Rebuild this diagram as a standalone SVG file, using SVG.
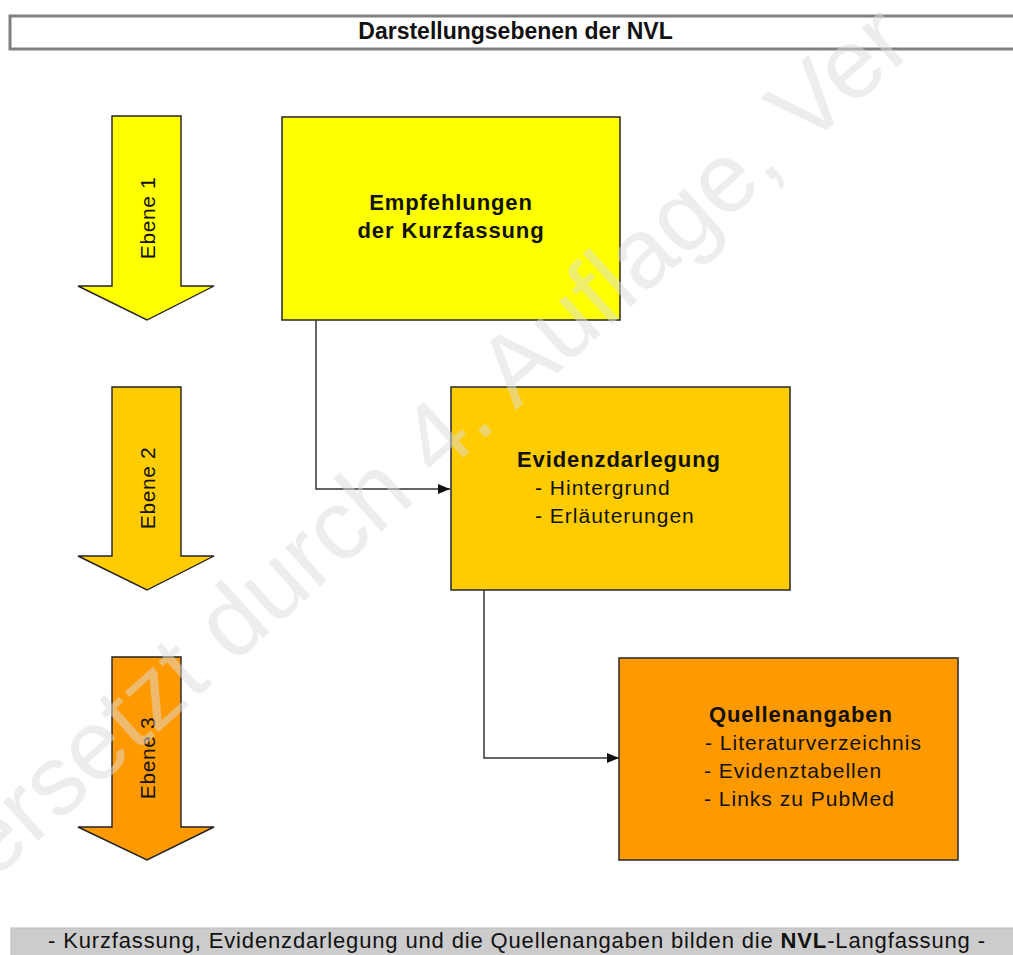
<svg xmlns="http://www.w3.org/2000/svg" width="1013" height="955" viewBox="0 0 1013 955">
<style>
  .t { font-family: "Liberation Sans", Arial, sans-serif; fill: #111; }
  .b { font-weight: bold; }
  .box { stroke: #333; stroke-width: 1.6; }
  .arr { stroke: #222; stroke-width: 1.4; stroke-linejoin: miter; }
  .con { fill: none; stroke: #333; stroke-width: 1.5; }
  .wm { font-family: "Liberation Sans", Arial, sans-serif; font-size: 99px; fill: #dcdcdc; opacity: 0.5; }
</style>
<defs>
  <marker id="ah" viewBox="0 0 12 10" refX="12" refY="5" markerWidth="12" markerHeight="10" markerUnits="userSpaceOnUse" orient="auto">
    <path d="M0,0 L12,5 L0,10 Z" fill="#111"/>
  </marker>
</defs>
<rect width="1013" height="955" fill="#ffffff"/>

<g id="title">
  <rect x="10" y="16" width="1012" height="33" fill="#ffffff" stroke="#808080" stroke-width="3"/>
  <text class="t b" x="515.5" y="39" font-size="23" text-anchor="middle">Darstellungsebenen der NVL</text>
</g>

<g id="ebene1">
  <path class="arr" d="M112,116 H181 V286 H214 L147,320 L78,286 H112 Z" fill="#ffff00"/>
  <text class="t" transform="translate(155,218) rotate(-90)" font-size="21" letter-spacing="0.6" text-anchor="middle">Ebene 1</text>
</g>
<g id="ebene2">
  <path class="arr" d="M112,387 H181 V556 H214 L147,590 L78,556 H112 Z" fill="#ffcc00"/>
  <text class="t" transform="translate(155,488) rotate(-90)" font-size="21" letter-spacing="0.6" text-anchor="middle">Ebene 2</text>
</g>
<g id="ebene3">
  <path class="arr" d="M112,657 H181 V827 H214 L147,860 L78,827 H112 Z" fill="#ff9900"/>
  <text class="t" transform="translate(155,758) rotate(-90)" font-size="21" letter-spacing="0.6" text-anchor="middle">Ebene 3</text>
</g>

<g id="connectors">
  <path class="con" d="M316,320 V489 H450" marker-end="url(#ah)"/>
  <path class="con" d="M484,590 V758 H619" marker-end="url(#ah)"/>
</g>

<g id="kurzfassung">
  <rect class="box" x="282" y="117" width="338" height="203" fill="#ffff00"/>
  <text class="t b" x="451" y="210" font-size="22" letter-spacing="0.9" text-anchor="middle">Empfehlungen</text>
  <text class="t b" x="451" y="238" font-size="22" letter-spacing="0.9" text-anchor="middle">der Kurzfassung</text>
</g>

<g id="evidenzdarlegung">
  <rect class="box" x="451" y="387" width="339" height="203" fill="#ffcc00"/>
  <text class="t b" x="517" y="467" font-size="22" letter-spacing="0.9">Evidenzdarlegung</text>
  <text class="t" x="535" y="495" font-size="21" letter-spacing="1">- Hintergrund</text>
  <text class="t" x="535" y="523" font-size="21" letter-spacing="1">- Erläuterungen</text>
</g>

<g id="quellenangaben">
  <rect class="box" x="619" y="658" width="339" height="202" fill="#ff9900"/>
  <text class="t b" x="709" y="722" font-size="22" letter-spacing="0.9">Quellenangaben</text>
  <text class="t" x="705" y="750" font-size="21" letter-spacing="1">- Literaturverzeichnis</text>
  <text class="t" x="704" y="778" font-size="21" letter-spacing="1">- Evidenztabellen</text>
  <text class="t" x="704" y="806" font-size="21" letter-spacing="1">- Links zu PubMed</text>
</g>

<g id="footer">
  <rect x="11" y="928" width="1012" height="40" fill="#cccccc" stroke="#bdbdbd" stroke-width="1"/>
  <text class="t" x="48" y="948" font-size="22" textLength="937" lengthAdjust="spacing">- Kurzfassung, Evidenzdarlegung und die Quellenangaben bilden die <tspan class="b">NVL</tspan>-Langfassung -</text>
</g>

<g id="watermark">
  <text class="wm" transform="translate(-8,882) rotate(-42)">ersetzt durch 4. Auflage, Ver</text>
</g>
</svg>
